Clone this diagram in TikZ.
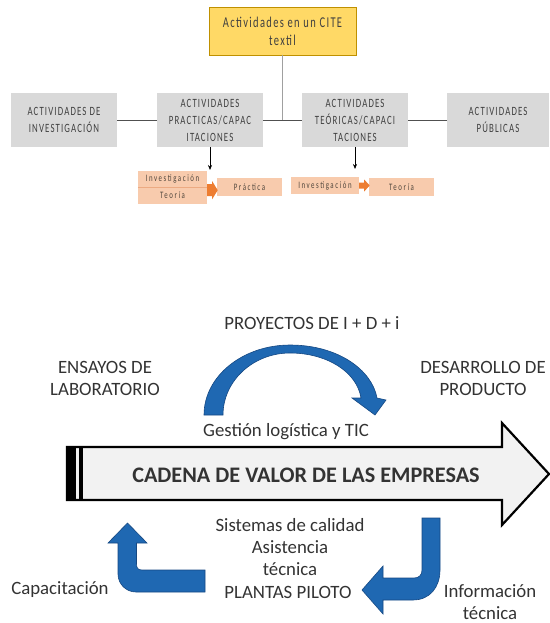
\documentclass[tikz,border=0pt]{standalone}
\usepackage{fontspec}
\setmainfont{Carlito}
\newfontfamily\condfont[FakeStretch=0.7,LetterSpace=9]{Carlito}
\newfontfamily\smallcond[FakeStretch=0.7,LetterSpace=16]{Carlito}
\usetikzlibrary{arrows.meta}
\definecolor{gbox}{RGB}{217,217,217}
\definecolor{ybox}{RGB}{255,217,102}
\definecolor{yedge}{RGB}{191,144,0}
\definecolor{obox}{RGB}{248,203,173}
\definecolor{oline}{RGB}{236,170,130}
\definecolor{oarrow}{RGB}{237,125,49}
\definecolor{txtgray}{RGB}{64,64,64}
\definecolor{otxt}{RGB}{80,70,60}
\definecolor{bluefill}{RGB}{31,104,178}
\definecolor{blueedge}{RGB}{22,72,130}
\definecolor{arrowfill}{RGB}{242,242,242}
\definecolor{conncol}{RGB}{80,80,80}
\definecolor{vconncol}{RGB}{160,160,160}
\tikzset{
  graybox/.style={fill=gbox, draw=none, minimum width=106pt, minimum height=54pt, inner sep=0pt, align=center, text=txtgray, font=\condfont\fontsize{12.6}{17}\selectfont},
  yellowbox/.style={fill=ybox, draw=yedge, line width=0.8pt, minimum width=147pt, minimum height=48pt, inner sep=0pt, align=center, text=txtgray, font=\condfont\fontsize{15}{18}\selectfont},
  obox/.style={fill=obox, draw=none, inner sep=0pt, align=center, text=otxt, font=\smallcond\fontsize{9.8}{10}\selectfont},
  conn/.style={draw=conncol, line width=0.9pt},
  vconn/.style={draw=vconncol, line width=1.4pt},
  downarrow/.style={draw=black, line width=0.6pt, -{Stealth[length=5pt,width=4pt]}},
  blockarrow/.style={fill=oarrow, draw=none},
  bluearrow/.style={fill=bluefill, draw=blueedge, line width=0.6pt},
  lbl/.style={inner sep=0pt, align=center, text=black!80, font=\fontsize{18.8}{22}\selectfont},
}
\begin{document}
\begin{tikzpicture}[x=1pt,y=-1pt]
\useasboundingbox (0,0) rectangle (549,623);
% ---------- top section ----------
\node[yellowbox] (yel) at (282.5,31) {Actividades en un CITE\\textil};
\node[graybox] (g1) at (64,120) {ACTIVIDADES DE\\INVESTIGACIÓN};
\node[graybox] (g2) at (210,120) {ACTIVIDADES\\PRACTICAS/CAPAC\\ITACIONES};
\node[graybox] (g3) at (355,120) {ACTIVIDADES\\TEÓRICAS/CAPACI\\TACIONES};
\node[graybox, minimum width=102pt] (g4) at (498,120) {ACTIVIDADES\\PÚBLICAS};
\draw[conn] (g1.east) -- (g2.west);
\draw[conn] (g2.east) -- (g3.west);
\draw[conn] (g3.east) -- (g4.west);
\draw[vconn] (yel.south) -- (yel.south |- g2.east);

\node[obox, minimum width=69pt, minimum height=16pt] (inv1) at (172.5,179) {Investigación};
\node[obox, minimum width=69pt, minimum height=17pt] (teo1) at (172.5,195.5) {Teoría};
\draw[oline, line width=0.6pt] (inv1.south west) -- (inv1.south east);
\node[obox, minimum width=65pt, minimum height=18pt] (prac) at (249.5,187) {Práctica};
\node[obox, minimum width=68pt, minimum height=17pt] (inv2) at (325,185.5) {Investigación};
\node[obox, minimum width=65pt, minimum height=18pt] (teo2) at (401.5,187) {Teoría};

\coordinate (d1) at (210,170);
\coordinate (d2) at (355,169);
\draw[downarrow] (g2.south) -- (d1);
\draw[downarrow] (g3.south) -- (d2);

\fill[blockarrow] (inv1.south east) ++(0,-3) -- ++(5,0) -- ++(0,-3) -- ++(5.5,9) -- ++(-5.5,9) -- ++(0,-3) -- ++(-5,0) -- cycle;
\fill[blockarrow] (inv2.east) ++(0,-3) -- ++(5,0) -- ++(0,-3) -- ++(5.5,6) -- ++(-5.5,6) -- ++(0,-3) -- ++(-5,0) -- cycle;

% ---------- bottom section ----------
\node[lbl] (proy) at (312,323) {PROYECTOS DE I + D + i};
\node[lbl, font=\fontsize{18.8}{21.5}\selectfont] (ens) at (105,378.5) {ENSAYOS DE\\LABORATORIO};
\node[lbl, font=\fontsize{18.8}{21.5}\selectfont] (des) at (483,378.5) {DESARROLLO DE\\PRODUCTO};
\node[lbl] (gest) at (286,432) {Gestión logística y TIC};

% curved arrow
\path[bluearrow] (204,415) .. controls (204,376) and (243,345) .. (290,345)
  .. controls (338,345) and (372,370) .. (377,398)
  -- (386,400) -- (375,415) -- (352,398) -- (361,398)
  .. controls (357,372) and (327,353) .. (290,353)
  .. controls (253,353) and (223,381) .. (223,415) -- cycle;

% big arrow
\path[fill=arrowfill, draw=black, line width=2.2pt, line join=miter]
  (67,447) -- (502,447) -- (502,423) -- (549,474) -- (502,525) -- (502,500) -- (67,500) -- cycle;
\fill[black] (66,446) rectangle (76,501);
\fill[black] (79,447) rectangle (82.5,500);
\node[lbl, font=\bfseries\fontsize{22.2}{23}\selectfont] (cad) at (306,475) {CADENA DE VALOR DE LAS EMPRESAS};

% lower texts
\node[lbl] (sist) at (290,547) {Sistemas de calidad\\Asistencia\\técnica};
\node[lbl] (plan) at (288,592) {PLANTAS PILOTO};
\node[lbl] (cap) at (60,590) {Capacitación};
\node[lbl, font=\fontsize{18.8}{22.5}\selectfont] (info) at (490,602) {Información\\técnica};

% left L arrow (up)
\path[bluearrow] (127.5,523) -- (147,543) -- (136.5,543) -- (136.5,564)
  .. controls (136.5,568) and (138,570) .. (142,570) -- (205,570) -- (205,592)
  -- (136,592) .. controls (126,592) and (118,584) .. (118,574) -- (118,543)
  -- (108,543) -- cycle;

% right L arrow (left)
\path[bluearrow] (422,518) -- (440,518) -- (440,570)
  .. controls (440,587) and (430,600) .. (413,600) -- (383,600) -- (383,614)
  -- (362,590) -- (383,566) -- (383,578) -- (414,578)
  .. controls (419,578) and (422,575) .. (422,570) -- cycle;
\end{tikzpicture}
\end{document}
